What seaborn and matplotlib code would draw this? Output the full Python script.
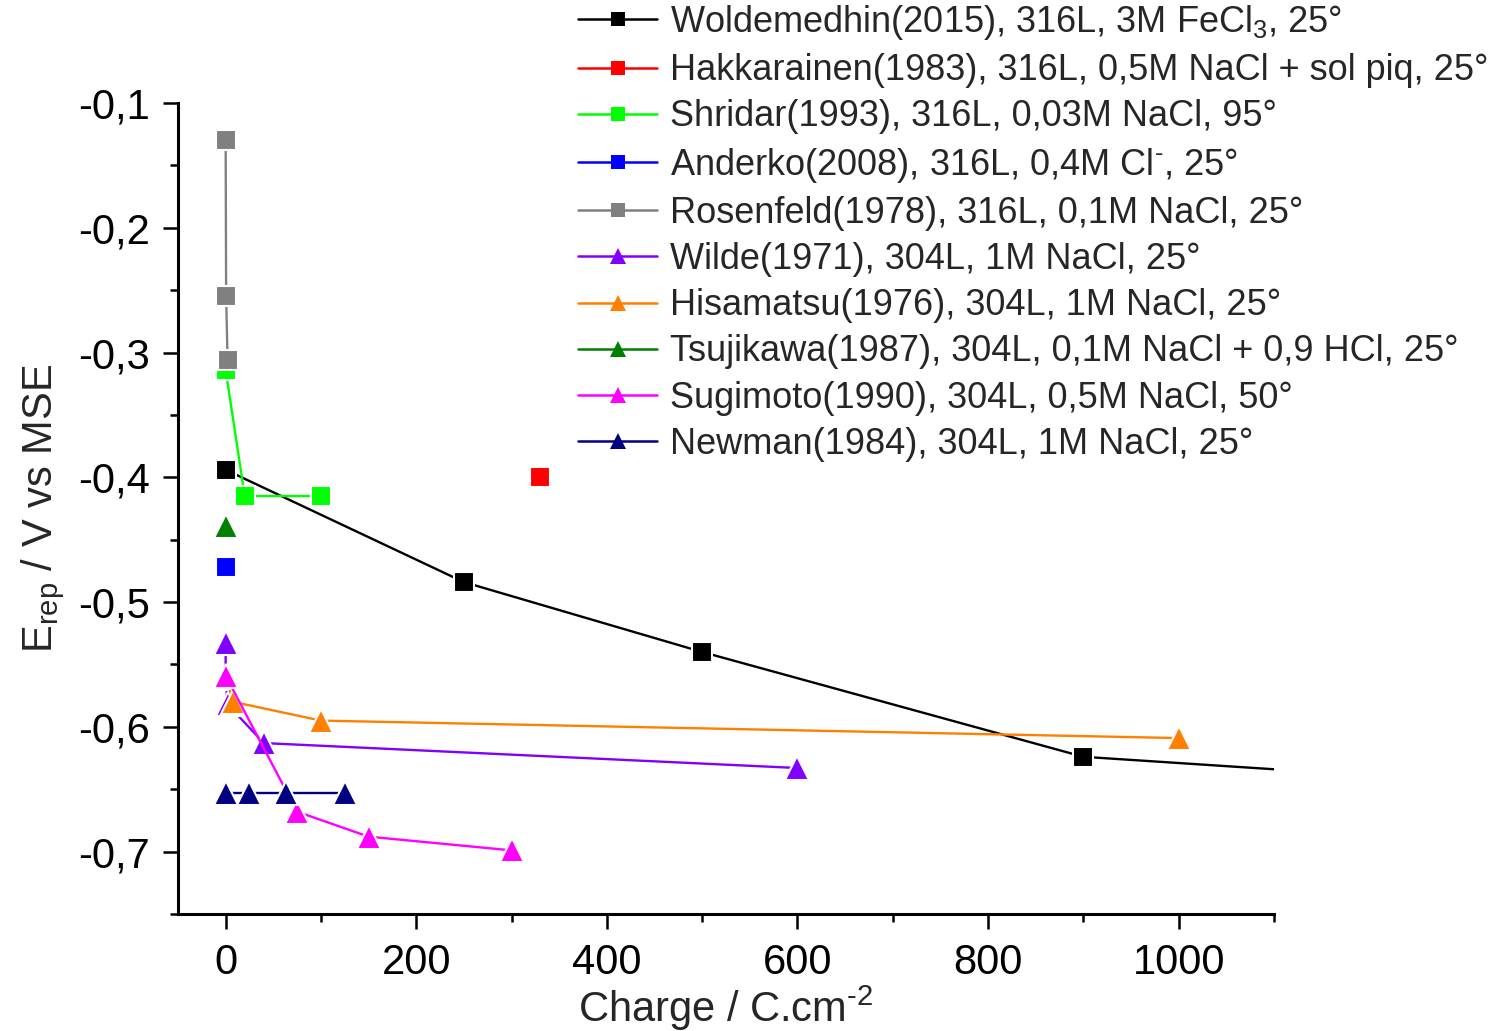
import matplotlib
matplotlib.use("Agg")
import matplotlib.pyplot as plt
import seaborn as sns
import pandas as pd
from matplotlib.lines import Line2D
from matplotlib.ticker import MultipleLocator, FuncFormatter

# --- data: charge (C.cm-2) vs repassivation potential (V vs MSE) ---
labels = [
    "Woldemedhin(2015), 316L, 3M FeCl$_3$, 25°",
    "Hakkarainen(1983), 316L, 0,5M NaCl + sol piq, 25°",
    "Shridar(1993), 316L, 0,03M NaCl, 95°",
    "Anderko(2008), 316L, 0,4M Cl$^{\u2010}$, 25°",
    "Rosenfeld(1978), 316L, 0,1M NaCl, 25°",
    "Wilde(1971), 304L, 1M NaCl, 25°",
    "Hisamatsu(1976), 304L, 1M NaCl, 25°",
    "Tsujikawa(1987), 304L, 0,1M NaCl + 0,9 HCl, 25°",
    "Sugimoto(1990), 304L, 0,5M NaCl, 50°",
    "Newman(1984), 304L, 1M NaCl, 25°",
]

woldemedhin_q = [0, 250, 500, 900, 1500]
woldemedhin_e = [-0.394, -0.484, -0.540, -0.624, -0.654]
hakkarainen_q = [330]
hakkarainen_e = [-0.400]
shridar_q = [0, 20, 100]
shridar_e = [-0.314, -0.415, -0.415]
anderko_q = [0]
anderko_e = [-0.472]
rosenfeld_q = [0, 0.5, 2]
rosenfeld_e = [-0.130, -0.255, -0.306]
wilde_q = [0, 0, 2, 40, 600]
wilde_e = [-0.533, -0.561, -0.582, -0.613, -0.633]
hisamatsu_q = [0, 8, 100, 1000]
hisamatsu_e = [-0.560, -0.580, -0.595, -0.609]
tsujikawa_q = [0]
tsujikawa_e = [-0.439]
sugimoto_q = [0, 75, 150, 300]
sugimoto_e = [-0.559, -0.668, -0.688, -0.699]
newman_q = [0, 25, 63, 125]
newman_e = [-0.653, -0.653, -0.653, -0.653]

series_q = [woldemedhin_q, hakkarainen_q, shridar_q, anderko_q, rosenfeld_q,
            wilde_q, hisamatsu_q, tsujikawa_q, sugimoto_q, newman_q]
series_e = [woldemedhin_e, hakkarainen_e, shridar_e, anderko_e, rosenfeld_e,
            wilde_e, hisamatsu_e, tsujikawa_e, sugimoto_e, newman_e]
colors = ["#000000", "#FF0000", "#00FF00", "#0000FF", "#808080",
          "#8000FF", "#FF8000", "#008000", "#FF00FF", "#000080"]
markers = ["s", "s", "s", "s", "s", "^", "^", "^", "^", "^"]

x_ticks = [0, 200, 400, 600, 800, 1000]
y_ticks = [-0.1, -0.2, -0.3, -0.4, -0.5, -0.6, -0.7]

sns.set_theme(style="ticks")
plt.rcParams["font.family"] = ["Liberation Sans", "DejaVu Sans"]
plt.rcParams["mathtext.fontset"] = "custom"
plt.rcParams["mathtext.rm"] = "Liberation Sans"
plt.rcParams["mathtext.it"] = "Liberation Sans"
plt.rcParams["mathtext.bf"] = "Liberation Sans"

fig = plt.figure(figsize=(15.01, 10.31), dpi=100)
ax = fig.add_axes([178 / 1501, 1 - 914 / 1031, (1274 - 178) / 1501, (914 - 103) / 1031])

legend_handles = []
for lab, q, e, c, m in zip(labels, series_q, series_e, colors, markers):
    df = pd.DataFrame({"q": q, "e": e})
    ms = 14 if m == "s" else 17
    sns.lineplot(data=df, x="q", y="e", ax=ax, sort=False, estimator=None,
                 color=c, linewidth=1.7, legend=False)
    line = ax.lines[-1]
    line.set_marker(m)
    line.set_markersize(ms)
    line.set_markerfacecolor(c)
    line.set_markeredgecolor("white")
    line.set_markeredgewidth(1.5)
    legend_handles.append(Line2D([], [], color=c, linewidth=1.8, marker=m,
                                 markersize=10 if m == "s" else 12,
                                 markeredgewidth=0))

ax.set_xlim(-50, 1100)
ax.set_ylim(-0.75, -0.1)
ax.set_xticks(x_ticks)
ax.set_yticks(y_ticks)
ax.xaxis.set_minor_locator(MultipleLocator(100))
ax.yaxis.set_minor_locator(MultipleLocator(0.05))
ax.yaxis.set_major_formatter(FuncFormatter(lambda v, p: f"{v:.1f}".replace(".", ",")))
ax.tick_params(axis="both", which="major", length=11, width=1.8, labelsize=30,
               direction="out", color="black", labelcolor="black")
ax.tick_params(axis="both", which="minor", length=6, width=1.8, direction="out",
               color="black")
ax.tick_params(axis="x", which="major", pad=10)
ax.tick_params(axis="y", which="major", pad=9)

for side in ("top", "right"):
    ax.spines[side].set_visible(False)
for side in ("left", "bottom"):
    ax.spines[side].set_linewidth(2.2)
    ax.spines[side].set_color("black")

ax.set_xlabel("Charge / C.cm$^{\u2010 2}$", fontsize=30, labelpad=0)
ax.set_ylabel("E$_{rep}$ / V vs MSE", fontsize=30, labelpad=8)

ax.legend(legend_handles, labels, loc="upper left",
          bbox_to_anchor=(578 / 1501, 1 - 3 / 1031),
          bbox_transform=fig.transFigure, frameon=False, fontsize=26,
          handlelength=2.2, handletextpad=0.35, labelspacing=0.31,
          borderpad=0.0, borderaxespad=0.0)

fig.savefig("out.png", dpi=100)
